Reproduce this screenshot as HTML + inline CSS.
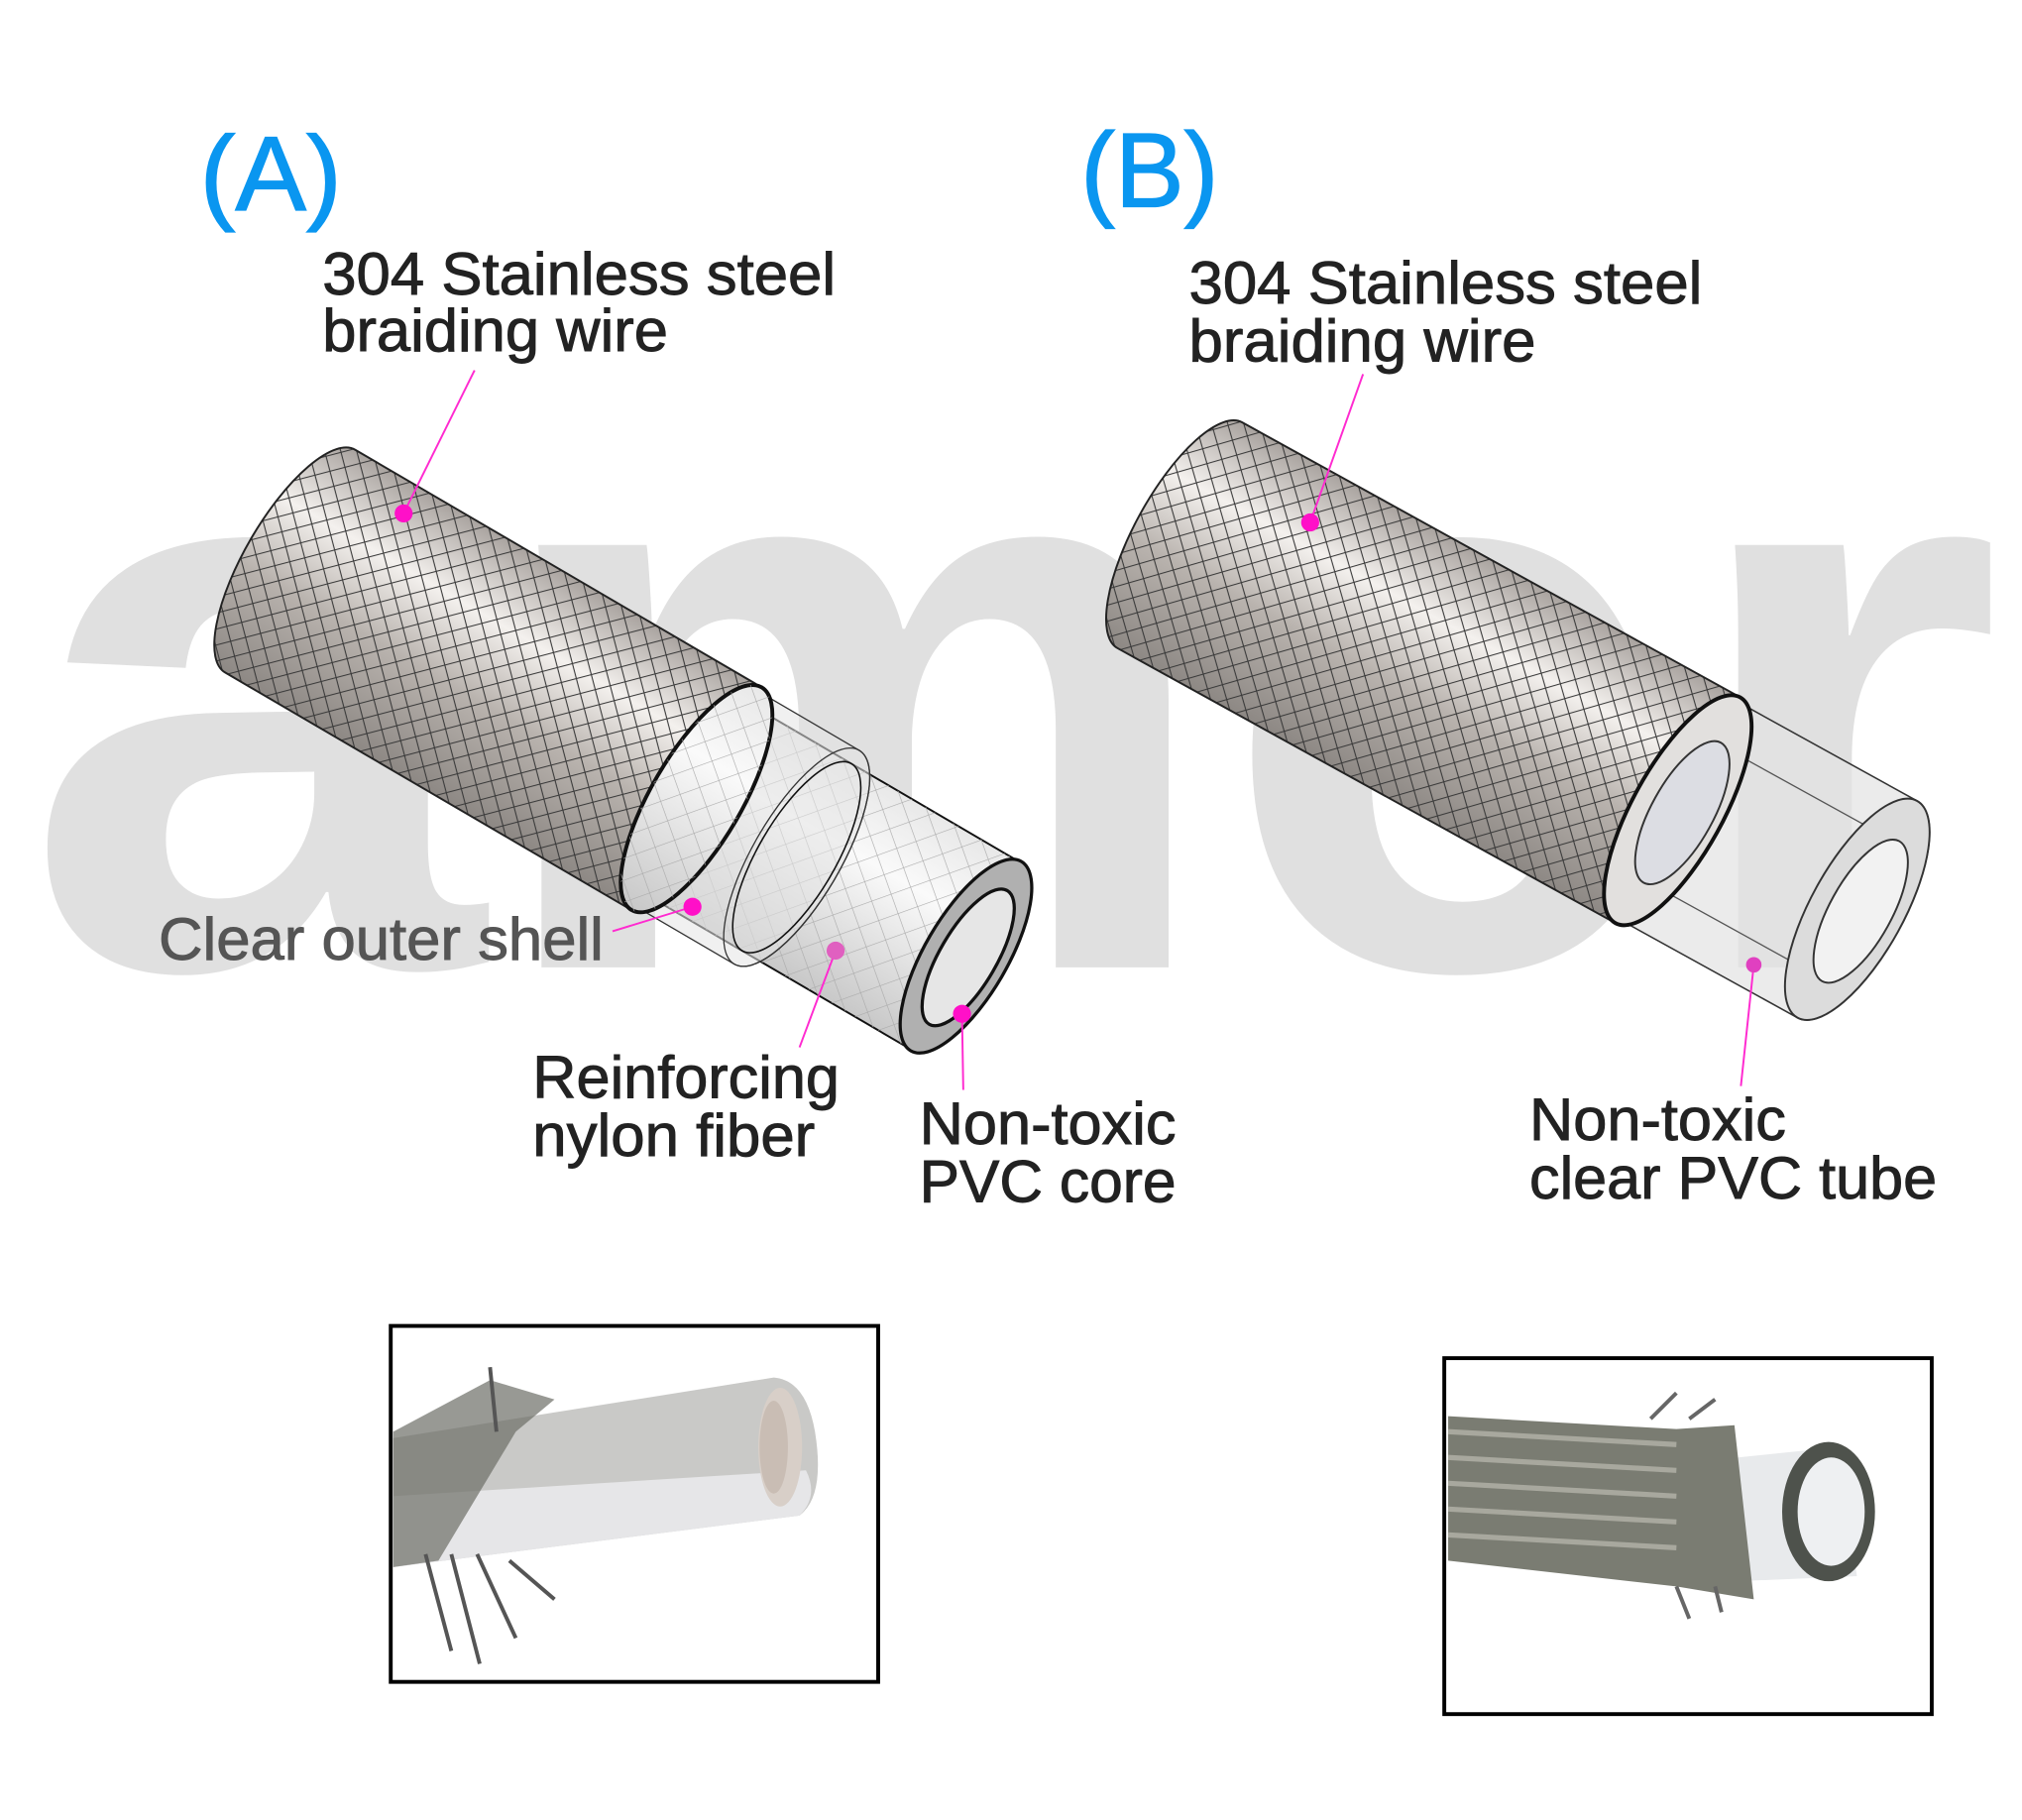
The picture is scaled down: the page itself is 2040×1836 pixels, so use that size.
<!DOCTYPE html>
<html><head><meta charset="utf-8"><style>
html,body{margin:0;padding:0;background:#fff;}
svg{display:block;}
text{font-family:"Liberation Sans",Arial,sans-serif;}
</style></head><body>
<svg width="2040" height="1836" viewBox="0 0 1568 1411" xmlns="http://www.w3.org/2000/svg">
<defs>
<pattern id="mesh" width="12" height="12" patternUnits="userSpaceOnUse" patternTransform="rotate(45)">
<path d="M0 0H12M0 0V12" stroke="#3a3a3a" stroke-width="1.6" fill="none"/>
</pattern>
<pattern id="meshL" width="16" height="16" patternUnits="userSpaceOnUse" patternTransform="rotate(40)">
<path d="M0 0H16M0 0V16" stroke="#aaa" stroke-width="0.9" fill="none"/>
</pattern>
<linearGradient id="steel" x1="0" y1="0" x2="0" y2="1">
<stop offset="0" stop-color="#a9a39f"/><stop offset="0.3" stop-color="#f4f1ee"/><stop offset="0.6" stop-color="#b9b3ae"/><stop offset="1" stop-color="#8d8884"/>
</linearGradient>
<linearGradient id="clear" x1="0" y1="0" x2="0" y2="1">
<stop offset="0" stop-color="#e8e8e8"/><stop offset="0.35" stop-color="#fafafa"/><stop offset="1" stop-color="#c8c8c8"/>
</linearGradient>
</defs>

<text x="18" y="750" font-size="620" font-weight="bold" fill="#e0e0e0" textLength="1535" lengthAdjust="spacingAndGlyphs">amer</text>

<g transform="translate(225,435) rotate(30.3)">
  <path d="M300,-84 L605,-84 A31 84 0 0 1 605,84 L300,84 Z" fill="url(#clear)" stroke="#111" stroke-width="1.5"/>
  <path d="M300,-84 L605,-84 A31 84 0 0 1 605,84 L300,84 Z" fill="url(#meshL)"/>
  <path d="M360,-96 L455,-96 A34 96 0 0 1 455,96 L360,96 Z" fill="#e4e4e4" fill-opacity="0.55" stroke="#333" stroke-width="1"/>
  <ellipse cx="455" cy="0" rx="34" ry="96" fill="none" stroke="#333" stroke-width="1"/>
  <ellipse cx="455" cy="0" rx="30" ry="84" fill="none" stroke="#111" stroke-width="1.2"/>
  <ellipse cx="607" cy="0" rx="32" ry="85" fill="#b0b0b0" stroke="#111" stroke-width="2.5"/>
  <ellipse cx="609" cy="0" rx="22" ry="60" fill="#e6e6e6" stroke="#111" stroke-width="2.5"/>
  <path d="M0,-100 L365,-100 L365,100 L0,100 A35 100 0 0 1 0,-100 Z" fill="url(#steel)"/>
  <path d="M0,-100 L365,-100 L365,100 L0,100 A35 100 0 0 1 0,-100 Z" fill="url(#mesh)" stroke="#222" stroke-width="1.5"/>
  <ellipse cx="365" cy="0" rx="35" ry="100" fill="url(#clear)" stroke="#111" stroke-width="3"/>
  <ellipse cx="365" cy="0" rx="35" ry="100" fill="url(#meshL)"/>
</g>

<g transform="translate(915,415) rotate(28.9)">
  <path d="M441,-96 L600,-96 A36 96 0 0 1 600,96 L441,96 Z" fill="#e2e2e2" fill-opacity="0.7" stroke="#333" stroke-width="1.2"/>
  <line x1="441" y1="-60" x2="600" y2="-60" stroke="#555" stroke-width="1"/>
  <line x1="441" y1="60" x2="600" y2="60" stroke="#555" stroke-width="1"/>
  <ellipse cx="600" cy="0" rx="36" ry="96" fill="#dcdcdc" stroke="#333" stroke-width="1.5"/>
  <ellipse cx="603" cy="0" rx="24" ry="62" fill="#f2f2f2" stroke="#333" stroke-width="1.5"/>
  <path d="M0,-100 L441,-100 L441,100 L0,100 A35 100 0 0 1 0,-100 Z" fill="url(#steel)"/>
  <path d="M0,-100 L441,-100 L441,100 L0,100 A35 100 0 0 1 0,-100 Z" fill="url(#mesh)" stroke="#222" stroke-width="1.5"/>
  <ellipse cx="441" cy="0" rx="35" ry="100" fill="#e2e0de" stroke="#111" stroke-width="3"/>
  <ellipse cx="445" cy="0" rx="24" ry="62" fill="#dcdde3" stroke="#333" stroke-width="1.5"/>
</g>

<text x="155" y="163" font-size="82" fill="#0a96f0" stroke="#0a96f0" stroke-width="1" textLength="110" lengthAdjust="spacingAndGlyphs">(A)</text>
<text x="838" y="160" font-size="82" fill="#0a96f0" stroke="#0a96f0" stroke-width="1" textLength="107" lengthAdjust="spacingAndGlyphs">(B)</text>

<g font-size="46" fill="#222" stroke="#222" stroke-width="0.7">
<text x="250" y="228" textLength="398" lengthAdjust="spacingAndGlyphs">304 Stainless steel</text>
<text x="250" y="272" textLength="268" lengthAdjust="spacingAndGlyphs">braiding wire</text>
<text x="922" y="235" textLength="398" lengthAdjust="spacingAndGlyphs">304 Stainless steel</text>
<text x="922" y="280" textLength="269" lengthAdjust="spacingAndGlyphs">braiding wire</text>
<text x="413" y="851" textLength="238" lengthAdjust="spacingAndGlyphs">Reinforcing</text>
<text x="413" y="896" textLength="219" lengthAdjust="spacingAndGlyphs">nylon fiber</text>
<text x="713" y="887" textLength="199" lengthAdjust="spacingAndGlyphs">Non-toxic</text>
<text x="713" y="932" textLength="199" lengthAdjust="spacingAndGlyphs">PVC core</text>
<text x="1186" y="884" textLength="199" lengthAdjust="spacingAndGlyphs">Non-toxic</text>
<text x="1186" y="929" textLength="316" lengthAdjust="spacingAndGlyphs">clear PVC tube</text>
</g>
<text x="123" y="744" font-size="46" fill="#555" stroke="#555" stroke-width="0.7" textLength="345" lengthAdjust="spacingAndGlyphs">Clear outer shell</text>

<g stroke="#ff2ad0" stroke-width="1.5" fill="none">
<line x1="368" y1="287" x2="313" y2="398"/>
<line x1="475" y1="722" x2="537" y2="703"/>
<line x1="620" y1="812" x2="648" y2="737"/>
<line x1="747" y1="845" x2="746" y2="786"/>
<line x1="1057" y1="290" x2="1016" y2="405"/>
<line x1="1350" y1="842" x2="1360" y2="748"/>
</g>
<g fill="#ff10c8">
<circle cx="313" cy="398" r="7"/>
<circle cx="537" cy="703" r="7"/>
<circle cx="648" cy="737" r="7" fill="#e060c0"/>
<circle cx="746" cy="786" r="7"/>
<circle cx="1016" cy="405" r="7"/>
<circle cx="1360" cy="748" r="6" fill="#e040c0"/>
</g>

<rect x="303" y="1028" width="378" height="276" fill="#fff" stroke="#000" stroke-width="3"/>
<g>
  <path d="M305,1115 L600,1068 Q625,1070 632,1110 Q640,1160 620,1175 L305,1215 Z" fill="#c9c9c7"/>
  <path d="M305,1160 L625,1140 Q635,1160 620,1175 L305,1215 Z" fill="#e6e6e8"/>
  <ellipse cx="605" cy="1122" rx="17" ry="46" fill="#d8cfc8"/>
  <ellipse cx="600" cy="1122" rx="11" ry="36" fill="#c9bdb4"/>
  <path d="M305,1110 L380,1070 L430,1085 L400,1110 L340,1210 L305,1215Z" fill="#6c6d66" opacity="0.7"/>
  <path d="M330,1205 L350,1280 M350,1205 L372,1290 M370,1205 L400,1270 M395,1210 L430,1240 M380,1060 L385,1110" stroke="#555" stroke-width="3" fill="none"/>
</g>

<rect x="1120" y="1053" width="378" height="276" fill="#fff" stroke="#000" stroke-width="3"/>
<g>
  <path d="M1300,1135 L1425,1122 L1440,1222 L1300,1228Z" fill="#e8eaec"/>
  <ellipse cx="1418" cy="1172" rx="36" ry="54" fill="#4e524c"/>
  <ellipse cx="1420" cy="1172" rx="26" ry="42" fill="#eef0f2"/>
  <path d="M1123,1098 L1300,1108 L1345,1105 L1360,1240 L1300,1230 L1123,1210Z" fill="#7a7c72"/>
  <path d="M1123,1110 L1300,1120 M1123,1130 L1300,1140 M1123,1150 L1300,1160 M1123,1170 L1300,1180 M1123,1190 L1300,1200" stroke="#a8a89e" stroke-width="4" fill="none"/>
  <path d="M1280,1100 L1300,1080 M1310,1100 L1330,1085 M1300,1230 L1310,1255 M1330,1230 L1335,1250" stroke="#666" stroke-width="3" fill="none"/>
</g>
</svg>
</body></html>
